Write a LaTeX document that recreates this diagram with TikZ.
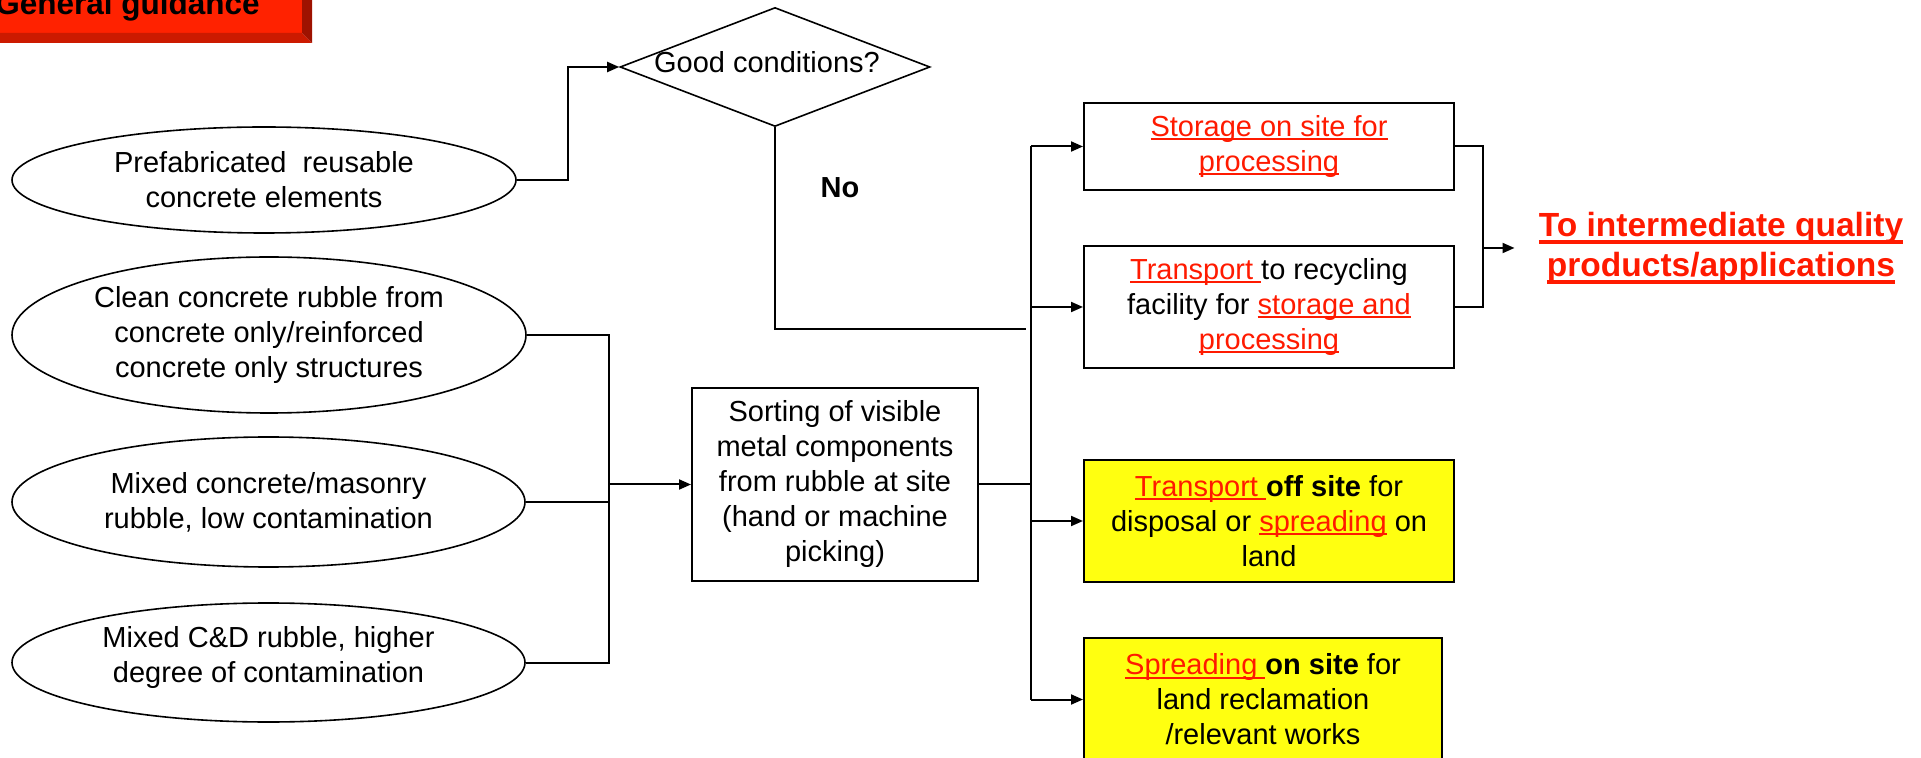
\documentclass[tikz,border=0pt]{standalone}
\usepackage{fontspec}
\setmainfont{Liberation Sans}
\usetikzlibrary{shapes.geometric,arrows.meta}

\definecolor{tred}{RGB}{255,26,0}
\definecolor{byel}{RGB}{255,255,16}
\definecolor{tabface}{RGB}{255,34,0}
\definecolor{tabbottom}{RGB}{204,26,0}
\definecolor{tabside}{RGB}{158,18,0}

% underlined phrase: rule a little below the baseline, across descenders
\newcommand\ulx[1]{\setbox0=\hbox{#1}\rlap{\rule[-2pt]{\wd0}{1pt}}\box0}
\newcommand\ulb[1]{\setbox0=\hbox{#1}\rlap{\rule[-3.6pt]{\wd0}{1.8pt}}\box0}
\newcommand\rl[1]{{\color{tred}\ulx{#1}}}

\tikzset{
  txt/.style={font=\fontsize{14.5}{17.5}\selectfont, align=center, inner sep=0pt},
  wh/.style 2 args={minimum width=#1*0.5pt, minimum height=#2*0.5pt},
  src/.style={txt, draw, ellipse, line width=0.8pt},
  stepbox/.style={txt, draw, rectangle, line width=1pt},
  yelbox/.style={stepbox, fill=byel},
  decision/.style={draw, diamond, inner sep=0pt, line width=0.8pt},
  conn/.style={line width=1pt},
  arr/.style={conn, -{Triangle[length=6pt,width=5pt]}},
}

\begin{document}
\begin{tikzpicture}[x=0.5pt,y=-0.5pt]
\useasboundingbox (0,0) rectangle (1921,758);

% bevelled heading tab
\fill[tabface] (0,0) rectangle (302,33);
\fill[tabbottom] (0,33) -- (302,33) -- (312,43) -- (0,43) -- cycle;
\fill[tabside] (302,0) -- (312,0) -- (312,43) -- (302,33) -- cycle;
\node[font=\bfseries\fontsize{15.75}{18}\selectfont, anchor=base east, inner sep=0pt] (tab) at (260,15) {General guidance};

% decision
\node[decision, wh={310}{119}] (gc) at (775,67) {};
\node[txt, anchor=base] (gclab) at (767,73) {Good conditions?};
\node[font=\bfseries\fontsize{14.5}{17.5}\selectfont, anchor=base, inner sep=0pt] (no) at (840,198) {No};

% material sources
\node[src, wh={504}{106}] (e1) at (264,180) {Prefabricated\ \ reusable\\concrete elements};
\node[src, wh={514}{156}] (e2) at (269,335) {Clean concrete rubble from\\concrete only/reinforced\\concrete only structures};
\node[src, wh={513}{130}] (e3) at (268.5,502) {Mixed concrete/masonry\\rubble, low contamination};
\node[src, wh={513}{119}] (e4) at (268.5,662.5) {Mixed C\&D rubble, higher\\degree of contamination\rule[-8pt]{0pt}{0pt}};

% sorting
\node[stepbox, wh={286}{193}] (sort) at (835,484.5) {Sorting of visible\\metal components\\from rubble at site\\(hand or machine\\picking)};

% routes
\node[stepbox, wh={370}{87}] (st) at (1269,146.5) {\rl{Storage on site for}\\\rl{processing}};
\node[stepbox, wh={370}{122}] (tr) at (1269,307) {\rl{Transport }to recycling\\facility for \rl{storage and}\\\rl{processing}};
\node[yelbox, wh={370}{122}] (y1) at (1269,521) {\rl{Transport }\textbf{off site} for\\disposal or \rl{spreading} on\\land};
\node[yelbox, wh={358}{123}] (y2) at (1263,699.5) {\rl{Spreading }\textbf{on site} for\\land reclamation\\/relevant works};

% outcome
\node[font=\bfseries\fontsize{16.75}{20}\selectfont, text=tred, align=center, inner ysep=0pt, inner xsep=12pt] (out) at (1721,248) {\ulb{To intermediate quality}\\\ulb{products/applications}};

% connectors
\coordinate (j1) at (568,180);
\draw[arr] (e1.east) -- (j1) |- (gc.west);

\coordinate (bl) at (609,335);
\draw[conn] (e2.east) -- (e2.east -| bl) -- (e4.east -| bl) -- (e4.east);
\draw[conn] (e3.east) -- (e3.east -| bl);
\draw[arr] (sort.west -| bl) -- (sort.west);

\coordinate (noend) at (1026,329);
\draw[conn] (gc.south) |- (noend);

\coordinate (br) at (1031,147);
\draw[conn] (sort.east) -- (sort.east -| br);
\draw[conn] (st.west -| br) -- (y2.west -| br);
\draw[arr] (st.west -| br) -- (st.west);
\draw[arr] (tr.west -| br) -- (tr.west);
\draw[arr] (y1.west -| br) -- (y1.west);
\draw[arr] (y2.west -| br) -- (y2.west);

\coordinate (mr) at (1483,147);
\draw[conn] (st.east) -- (st.east -| mr) -- (tr.east -| mr) -- (tr.east);
\draw[arr] (out.west -| mr) -- (out.west);
\end{tikzpicture}
\end{document}
